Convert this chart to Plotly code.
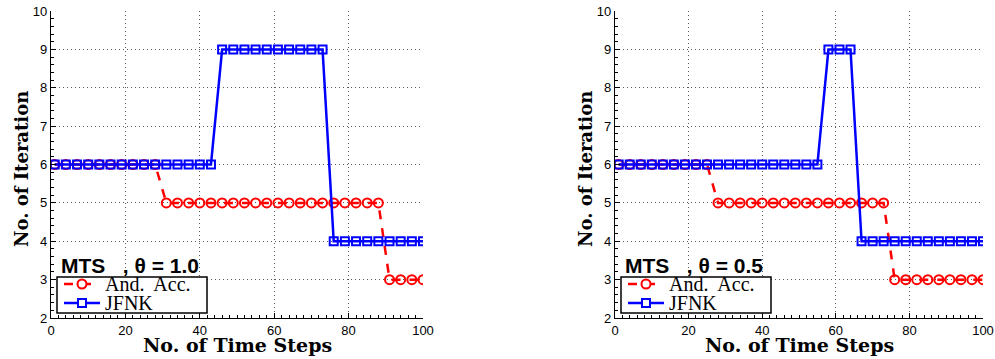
import plotly.graph_objects as go

# ---- data ----
steps = [1, 4, 7, 10, 13, 16, 19, 22, 25, 28, 31, 34, 37, 40, 43, 46, 49, 52, 55, 58,
         61, 64, 67, 70, 73, 76, 79, 82, 85, 88, 91, 94, 97, 100]

aa_theta10 = [6, 6, 6, 6, 6, 6, 6, 6, 6, 6,
              5, 5, 5, 5, 5, 5, 5, 5, 5, 5, 5, 5, 5, 5, 5, 5, 5, 5, 5, 5,
              3, 3, 3, 3]
jfnk_theta10 = [6, 6, 6, 6, 6, 6, 6, 6, 6, 6, 6, 6, 6, 6, 6,
                9, 9, 9, 9, 9, 9, 9, 9, 9, 9,
                4, 4, 4, 4, 4, 4, 4, 4, 4]
aa_theta05 = [6, 6, 6, 6, 6, 6, 6, 6, 6,
              5, 5, 5, 5, 5, 5, 5, 5, 5, 5, 5, 5, 5, 5, 5, 5,
              3, 3, 3, 3, 3, 3, 3, 3, 3]
jfnk_theta05 = [6, 6, 6, 6, 6, 6, 6, 6, 6, 6, 6, 6, 6, 6, 6, 6, 6, 6, 6,
                9, 9, 9,
                4, 4, 4, 4, 4, 4, 4, 4, 4, 4, 4, 4]

series_names = ["And.\u00a0 Acc.", "JFNK"]
panel_labels = ["<b>MTS\u00a0\u00a0\u00a0, \u03b8 = 1.0</b>", "<b>MTS\u00a0\u00a0\u00a0, \u03b8 = 0.5</b>"]
x_ticks = [0, 20, 40, 60, 80, 100]
y_ticks = [2, 3, 4, 5, 6, 7, 8, 9, 10]
x_title = "No. of Time Steps"
y_title = "No. of Iteration"

RED = "rgb(255,0,0)"
BLUE = "rgb(0,0,255)"
W, H = 995, 359
SERIF_B = "DejaVu Serif, Liberation Serif, serif"
SERIF_L = "Liberation Serif, Times New Roman, serif"
SANS = "Liberation Sans, Arial, sans-serif"

styles = [
    dict(line=dict(color=RED, width=2.5, dash="dash"),
         marker=dict(symbol="circle-open", size=9, color=RED, line=dict(width=2, color=RED))),
    dict(line=dict(color=BLUE, width=2.5),
         marker=dict(symbol="square-open", size=8, color=BLUE, line=dict(width=2, color=BLUE))),
]

fig = go.Figure()
panels = [
    (aa_theta10, jfnk_theta10, "x", "y"),
    (aa_theta05, jfnk_theta05, "x2", "y2"),
]
for aa, jf, xa, ya in panels:
    for name, vals, st in zip(series_names, [aa, jf], styles):
        fig.add_trace(go.Scatter(
            x=steps, y=vals, name=name, xaxis=xa, yaxis=ya,
            mode="lines+markers", showlegend=False, **st,
        ))

# plot areas in pixels
left_px = [(51, 423), (615, 983)]
top_px, bot_px = 11, 318
ydom = [1 - bot_px / H, 1 - top_px / H]


def px(x):
    return x / W


def py(y):
    return 1 - y / H


tickfont = dict(family=SANS, size=13, color="black")
axis_common = dict(
    showline=True, linecolor="black", linewidth=1.2,
    showgrid=True, gridcolor="rgb(90,90,90)", griddash="1px,3px", gridwidth=1,
    zeroline=False, ticks="inside", ticklen=5, tickcolor="black",
    tickfont=tickfont, automargin=False,
)

layout = dict(
    width=W, height=H, margin=dict(l=0, r=0, t=0, b=0, autoexpand=False),
    plot_bgcolor="white", paper_bgcolor="white",
    showlegend=False,
)
for i, (l, r) in enumerate(left_px):
    sfx = "" if i == 0 else "2"
    layout["xaxis" + sfx] = dict(
        domain=[px(l), px(r)], range=[0, 100], tickvals=x_ticks,
        anchor="y" + sfx,
        minor=dict(dtick=2, ticks="inside", ticklen=3, tickcolor="black", showgrid=False),
        **axis_common,
    )
    layout["yaxis" + sfx] = dict(
        domain=ydom, range=[2, 10], tickvals=y_ticks,
        anchor="x" + sfx,
        minor=dict(dtick=0.2, ticks="inside", ticklen=3, tickcolor="black", showgrid=False),
        **axis_common,
    )
fig.update_layout(**layout)

annotations = []
shapes = []
for i, (l, r) in enumerate(left_px):
    cx = (l + r) / 2
    annotations.append(dict(
        text="<b>" + x_title + "</b>", x=px(cx), y=py(345), xref="paper", yref="paper",
        xanchor="center", yanchor="middle", showarrow=False,
        font=dict(family=SERIF_B, size=19, color="black"),
    ))
    annotations.append(dict(
        text="<b>" + y_title + "</b>", x=px(l - 30), y=py(169), xref="paper", yref="paper",
        xanchor="center", yanchor="middle", showarrow=False, textangle=-90,
        font=dict(family=SERIF_B, size=18, color="black"),
    ))
    annotations.append(dict(
        text=panel_labels[i], x=px(l + 8), y=py(265), xref="paper", yref="paper",
        xanchor="left", yanchor="middle", showarrow=False,
        font=dict(family=SANS, size=21, color="black"),
    ))
    # legend box (drawn by hand so that it is as compact as the reference)
    shapes.append(dict(
        type="rect", xref="paper", yref="paper", layer="above",
        x0=px(l + 6), x1=px(l + 156), y0=py(313), y1=py(277),
        line=dict(color="black", width=1.5), fillcolor="white",
    ))
    rows = [284, 303]
    for name, st, ry in zip(series_names, styles, rows):
        shapes.append(dict(
            type="line", xref="paper", yref="paper", layer="above",
            x0=px(l + 13), x1=px(l + 49), y0=py(ry), y1=py(ry),
            line=dict(color=st["line"]["color"], width=st["line"]["width"],
                      dash=st["line"].get("dash", "solid")),
        ))
        half = 4.5 if st["marker"]["symbol"].startswith("circle") else 4
        shapes.append(dict(
            type="circle" if st["marker"]["symbol"].startswith("circle") else "rect",
            xref="paper", yref="paper", layer="above",
            x0=px(l + 31 - half), x1=px(l + 31 + half),
            y0=py(ry + half), y1=py(ry - half),
            line=dict(color=st["line"]["color"], width=2), fillcolor="white",
        ))
        annotations.append(dict(
            text=name, x=px(l + 52), y=py(ry), xref="paper", yref="paper",
            xanchor="left", yanchor="middle", showarrow=False,
            font=dict(family=SERIF_L, size=20, color="black"),
        ))
fig.update_layout(annotations=annotations, shapes=shapes)

fig.write_html("out.html")
